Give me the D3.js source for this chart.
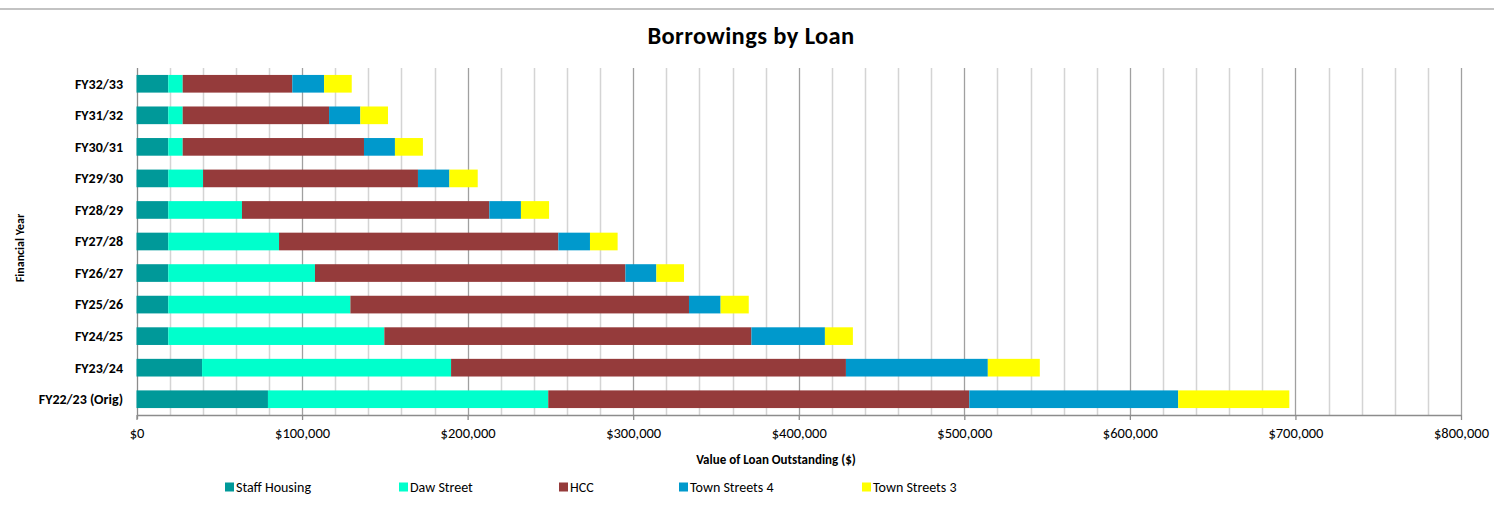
<!DOCTYPE html>
<html>
<head>
<meta charset="utf-8">
<script src="https://cdn.jsdelivr.net/npm/d3@7"></script>
<style>
  html, body { margin: 0; padding: 0; background: #fff; }
  svg { display: block; font-family: Calibri, Carlito, Lato, "Liberation Sans", Arial, sans-serif; }
</style>
</head>
<body>
<svg id="chart" width="1494" height="509"></svg>
<script>
// ---- Data ----
const categories = ["FY32/33","FY31/32","FY30/31","FY29/30","FY28/29","FY27/28","FY26/27","FY25/26","FY24/25","FY23/24","FY22/23 (Orig)"];
const seriesNames = ["Staff Housing","Daw Street","HCC","Town Streets 4","Town Streets 3"];
const staffHousing = [19200,19200,19200,19200,19200,19200,19200,19200,19200,39600,79400];
const dawStreet    = [8700,8700,8700,21000,44500,66900,88600,110000,130500,150400,169300];
const hcc          = [66200,88400,109500,129800,149400,168700,187500,204500,221700,238500,254300];
const townStreets4 = [19200,18900,18700,19000,19100,19100,18700,19100,44400,85700,126200];
const townStreets3 = [16700,16700,16900,17100,17000,16700,16700,17000,16900,31400,67100];
const xTickValues  = [0,100000,200000,300000,400000,500000,600000,700000,800000];
const colors = ["#009999","#00FFCC","#953B3B","#0099CC","#FFFF00"];

const rows = categories.map((c, i) => ({
  cat: c,
  "Staff Housing": staffHousing[i],
  "Daw Street": dawStreet[i],
  "HCC": hcc[i],
  "Town Streets 4": townStreets4[i],
  "Town Streets 3": townStreets3[i]
}));

// ---- Layout ----
const svg = d3.select("#chart");
const W = 1494;
const plot = { left: 136.5, right: 1461, top: 68, bottom: 415 };

const x = d3.scaleLinear().domain([0, 800000]).range([plot.left, plot.right]);
const y = d3.scaleBand().domain(categories).range([plot.top, plot.bottom])
  .paddingInner(0.44).paddingOuter(0.22);
const color = d3.scaleOrdinal().domain(seriesNames).range(colors);

// top border line
svg.append("line").attr("x1", 0).attr("x2", W).attr("y1", 9).attr("y2", 9)
  .attr("stroke", "#c3c3c3").attr("stroke-width", 2);

// title
svg.append("text").attr("x", 751).attr("y", 44).attr("text-anchor", "middle")
  .attr("font-size", 24.5).attr("font-weight", "bold").attr("fill", "#000")
  .attr("letter-spacing", 0.4)
  .text("Borrowings by Loan");

// gridlines
const minor = d3.range(20000, 800001, 20000);
svg.append("g").selectAll("line").data(minor).join("line")
  .attr("x1", d => Math.round(x(d)) + 0.5).attr("x2", d => Math.round(x(d)) + 0.5)
  .attr("y1", plot.top).attr("y2", plot.bottom)
  .attr("stroke", d => d % 100000 === 0 ? "#a0a0a0" : "#d4d4d4")
  .attr("stroke-width", d => d % 100000 === 0 ? 1.3 : 1.5);

// left axis line
svg.append("line").attr("x1", Math.round(x(0)) + 0.5).attr("x2", Math.round(x(0)) + 0.5)
  .attr("y1", plot.top).attr("y2", plot.bottom + 4).attr("stroke", "#8c8c8c").attr("stroke-width", 1.3);

// bars
const stack = d3.stack().keys(seriesNames);
const stacked = stack(rows);
svg.append("g").selectAll("g").data(stacked).join("g")
  .attr("fill", d => color(d.key))
  .selectAll("rect").data(d => d).join("rect")
  .attr("x", d => x(d[0]))
  .attr("width", d => x(d[1]) - x(d[0]))
  .attr("y", d => y(d.data.cat))
  .attr("height", y.bandwidth());

// bottom axis
const xAxis = d3.axisBottom(x).tickValues(xTickValues)
  .tickFormat(d => "$" + d3.format(",")(d)).tickSize(5).tickSizeOuter(0).tickPadding(8);
const gx = svg.append("g").attr("transform", `translate(0,${plot.bottom})`).call(xAxis);
gx.select(".domain").attr("stroke", "#8c8c8c").attr("stroke-width", 1.3);
gx.selectAll(".tick line").attr("stroke", "#8c8c8c").attr("stroke-width", 1.3);
gx.selectAll(".tick text").attr("font-size", 14.5).attr("fill", "#000")
  .attr("font-family", "Calibri, Carlito, Lato, 'Liberation Sans', Arial, sans-serif");

// category labels
svg.append("g").selectAll("text").data(categories).join("text")
  .attr("x", 123).attr("y", d => y(d) + y.bandwidth() / 2)
  .attr("dy", "0.35em").attr("text-anchor", "end")
  .attr("font-size", 14).attr("font-weight", "bold").attr("fill", "#000")
  .text(d => d);

// axis titles
svg.append("text").attr("x", 776).attr("y", 464).attr("text-anchor", "middle")
  .attr("font-size", 13).attr("font-weight", "bold").attr("fill", "#000")
  .text("Value of Loan Outstanding ($)");
svg.append("text").attr("transform", "translate(23.5,248) rotate(-90)")
  .attr("text-anchor", "middle").attr("font-size", 12).attr("font-weight", "bold").attr("fill", "#000")
  .text("Financial Year");

// legend
const legendX = [225, 399, 559, 679, 862];
const lg = svg.append("g").selectAll("g").data(seriesNames).join("g")
  .attr("transform", (d, i) => `translate(${legendX[i]},487)`);
lg.append("rect").attr("x", 0).attr("y", -4.5).attr("width", 9).attr("height", 9)
  .attr("fill", d => color(d));
lg.append("text").attr("x", 11).attr("y", 0).attr("dy", "0.35em")
  .attr("font-size", 14).attr("fill", "#000").text(d => d);
</script>
</body>
</html>
